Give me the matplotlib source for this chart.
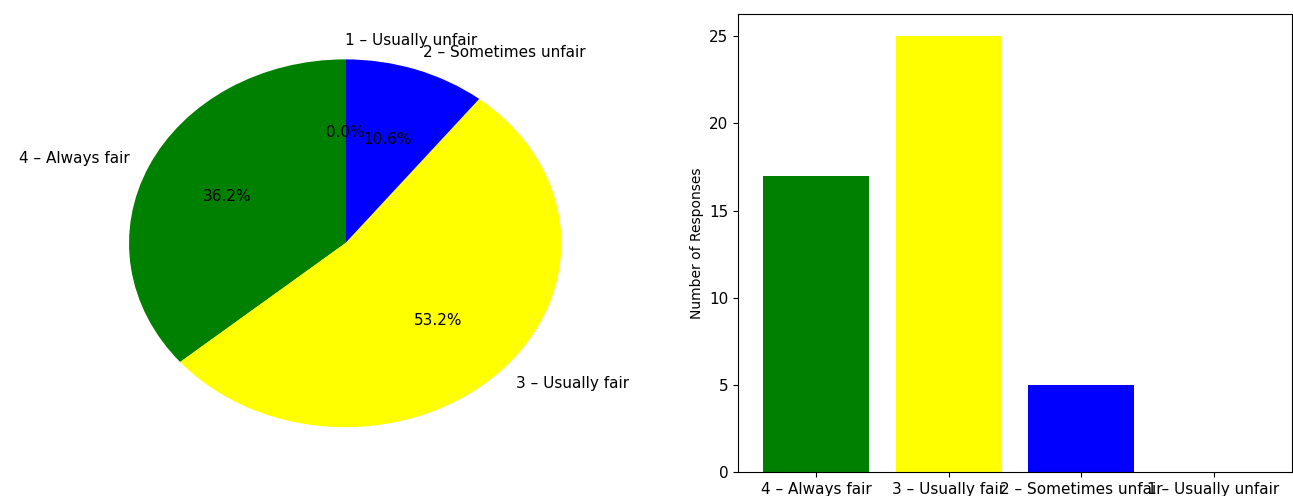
import matplotlib
matplotlib.use('Agg')
from matplotlib import pyplot as plt

# survey answers
labels = ['4 – Always fair', '3 – Usually fair', '2 – Sometimes unfair', '1 – Usually unfair']
counts = [17, 25, 5, 0]
colours = ['green', 'yellow', 'blue', 'red']

plt.rcParams['font.size'] = 11  # reference text looks a touch wider than default

fig = plt.figure(figsize=(12.93, 4.96), dpi=100)

# pie on the left, stretched like the original
ax1 = fig.add_axes([0.058, 0.046, 0.418, 0.927])
ax1.pie(counts, labels=labels, colors=colours, autopct='%1.1f%%', startangle=90)
ax1.set_aspect('auto')

# bar chart on the right
ax2 = fig.add_axes([0.571, 0.048, 0.428, 0.923])
ax2.bar(labels, counts, color=colours)
ax2.set_ylabel('Number of Responses', fontsize=10)

fig.savefig('out.png', dpi=100)
